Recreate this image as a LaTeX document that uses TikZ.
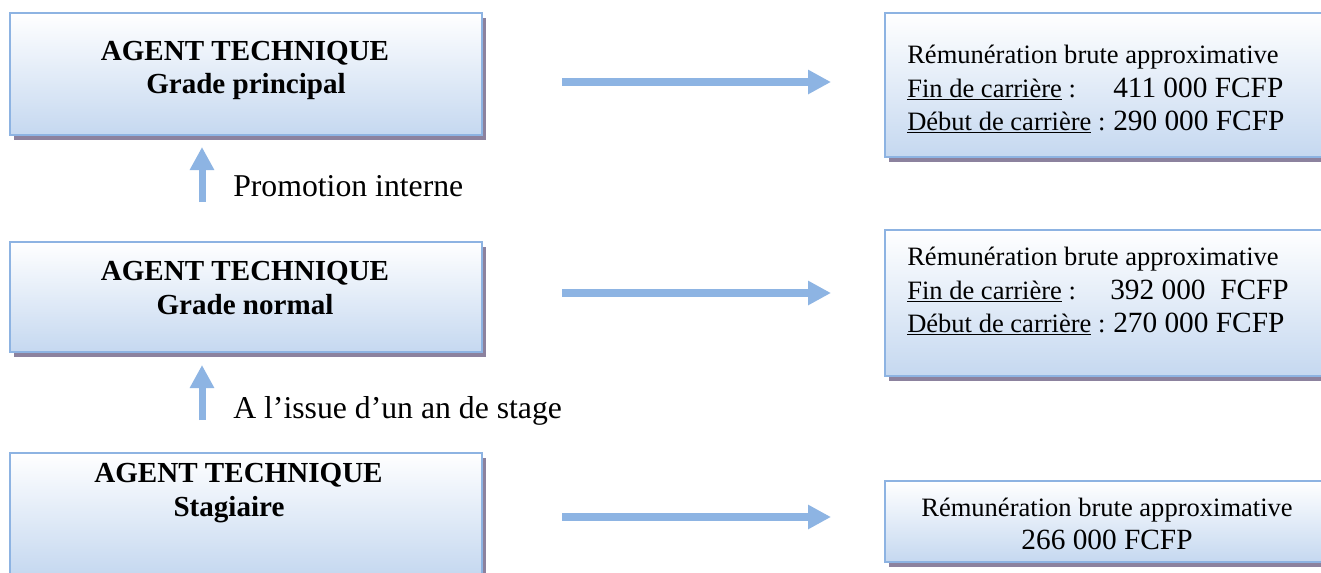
\documentclass[tikz,border=0pt]{standalone}
\usepackage{fontspec}
\setmainfont{Liberation Serif}
\usetikzlibrary{arrows.meta,shadows}
\definecolor{arrowblue}{RGB}{141,180,227}
\definecolor{boxline}{RGB}{141,179,226}
\definecolor{boxbottom}{RGB}{197,216,240}
\definecolor{shadowc}{RGB}{140,130,158}
\tikzset{
 gradbox/.style={draw=boxline, line width=1.5pt, top color=white, bottom color=boxbottom, inner sep=0pt,
   drop shadow={shadow xshift=3pt, shadow yshift=-3.5pt, fill=shadowc, opacity=1}},
 harrow/.style={draw=arrowblue, line width=6pt, -{Triangle[length=17.25pt, width=17.25pt]}},
 varrow/.style={draw=arrowblue, line width=5.25pt, -{Triangle[length=17.25pt, width=17.25pt]}},
 title/.style={font=\bfseries\fontsize{21.8}{26}\selectfont, anchor=base, inner sep=0pt},
 small/.style={font=\fontsize{19.9}{24}\selectfont, anchor=base west, inner sep=0pt},
 big/.style={font=\fontsize{22}{26}\selectfont, anchor=base, inner sep=0pt},
 lbl/.style={font=\fontsize{23.8}{28}\selectfont, anchor=base west, inner sep=0pt},
}
\newcommand{\numtxt}[1]{{\fontsize{22}{26}\selectfont #1}}
\begin{document}
\begin{tikzpicture}[x=0.75pt, y=-0.75pt]
\useasboundingbox (0,0) rectangle (1321,572);
\fill[white] (0,0) rectangle (1321,572);
% left boxes
\node[gradbox, minimum width=354pt, minimum height=91.5pt] (L1) at (246,74) {};
\node[gradbox, minimum width=354pt, minimum height=82.5pt] (L2) at (246,297) {};
\node[gradbox, minimum width=354pt, minimum height=91.5pt] (L3) at (246,514) {};
% right boxes
\node[gradbox, minimum width=333pt, minimum height=108pt] (R1) at (1107,85) {};
\node[gradbox, minimum width=333pt, minimum height=109.5pt] (R2) at (1107,303) {};
\node[gradbox, minimum width=333pt, minimum height=60.75pt] (R3) at (1107,521.5) {};
% left texts
\node[title] (L1a) at (245,60) {AGENT TECHNIQUE};
\node[title] (L1b) at (246,93) {Grade principal};
\node[title] (L2a) at (245,280) {AGENT TECHNIQUE};
\node[title] (L2b) at (245,314) {Grade normal};
\node[title] (L3a) at (238.5,482) {AGENT TECHNIQUE};
\node[title] (L3b) at (229,516) {Stagiaire};
% right texts
\node[small] (R1a) at (907,63) {Rémunération brute approximative};
\node[small] (R1b) at (907,97) {\makebox[154.5pt][l]{\underline{Fin de carrière} :}\numtxt{411 000 FCFP}};
\node[small] (R1c) at (907,130) {\makebox[154.5pt][l]{\underline{Début de carrière} :}\numtxt{290 000 FCFP}};
\node[small] (R2a) at (907,265) {Rémunération brute approximative};
\node[small] (R2b) at (907,299) {\makebox[152.25pt][l]{\underline{Fin de carrière} :}\numtxt{392 000\ \ FCFP}};
\node[small] (R2c) at (907,332) {\makebox[154.5pt][l]{\underline{Début de carrière} :}\numtxt{270 000 FCFP}};
\node[small, anchor=base] (R3a) at (1107,516) {Rémunération brute approximative};
\node[big] (R3b) at (1107,549) {266 000 FCFP};
% horizontal arrows
\coordinate (h1s) at (562,82);  \coordinate (h1e) at (831,82);
\coordinate (h2s) at (562,293); \coordinate (h2e) at (831,293);
\coordinate (h3s) at (562,517); \coordinate (h3e) at (831,517);
\draw[harrow] (h1s) -- (h1e);
\draw[harrow] (h2s) -- (h2e);
\draw[harrow] (h3s) -- (h3e);
% vertical arrows
\coordinate (v1s) at (202,202); \coordinate (v1e) at (202,147);
\coordinate (v2s) at (202,420); \coordinate (v2e) at (202,365);
\draw[varrow] (v1s) -- (v1e);
\draw[varrow] (v2s) -- (v2e);
% labels
\node[lbl] (P1) at (233,196) {Promotion interne};
\node[lbl] (P2) at (233,418) {A l’issue d’un an de stage};
\end{tikzpicture}
\end{document}
